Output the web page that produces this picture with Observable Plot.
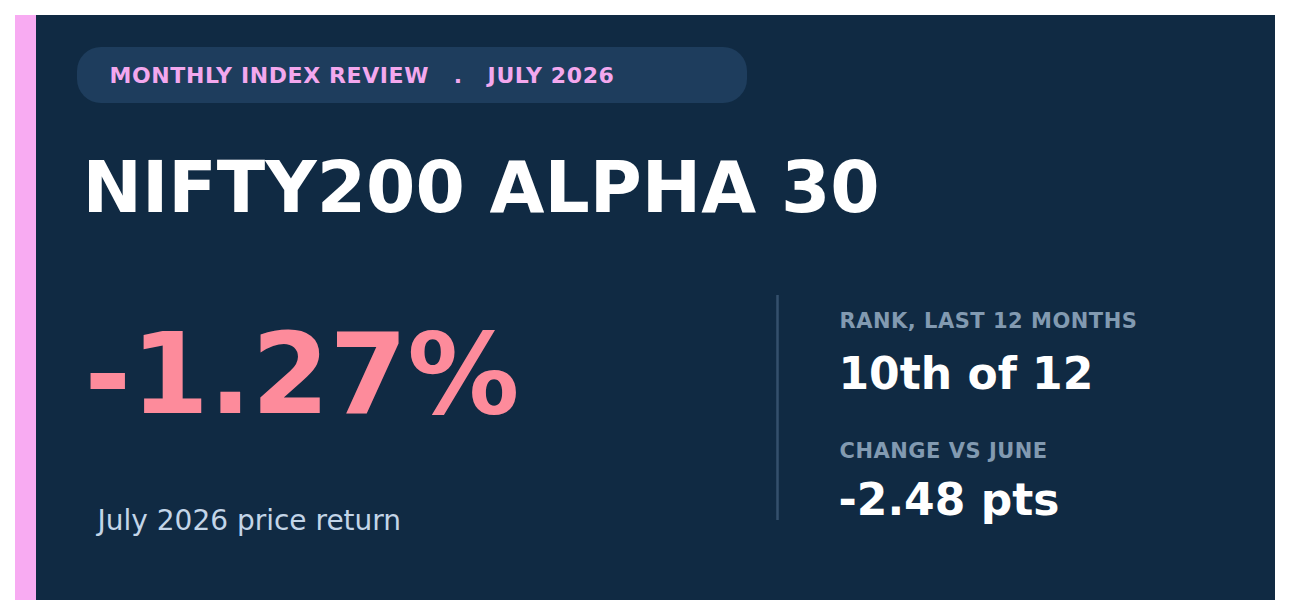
<!DOCTYPE html>
<html>
<head>
<meta charset="utf-8">
<script src="https://cdn.jsdelivr.net/npm/d3@7"></script>
<script src="https://cdn.jsdelivr.net/npm/@observablehq/plot@0.6"></script>
<style>
  html, body { margin: 0; padding: 0; background: #ffffff; }
  #chart svg { display: block; font-family: "DejaVu Sans", sans-serif; }
  text[aria-label="kicker"] { letter-spacing: 0.6px; }
  text[aria-label="stat-label"] { letter-spacing: 0.5px; }
</style>
</head>
<body>
<div id="chart"></div>
<script>
// ---- data ----
const kickerParts = ["MONTHLY INDEX REVIEW", "JULY 2026"];
const indexName = ["NIFTY200 ALPHA 30"];
const headlineValue = [-1.27];
const headlineCaption = ["July 2026 price return"];
const statLabels = ["RANK, LAST 12 MONTHS", "CHANGE VS JUNE"];
const statValues = ["10th of 12", "-2.48 pts"];

// ---- layout (pixel space via scales) ----
const W = 1290, H = 615;
const navy = "#102a43";
const pink = "#f8abf2";
const sep = "\u00a0\u00a0\u00a0.\u00a0\u00a0\u00a0";

const fmtPct = d => (d < 0 ? "-" : "+") + Math.abs(d).toFixed(2) + "%";

const chart = Plot.plot({
  width: W,
  height: H,
  margin: 0,
  x: {domain: [0, W], axis: null},
  y: {domain: [0, H], range: [0, H], axis: null},
  style: {background: "#ffffff", fontFamily: "DejaVu Sans, sans-serif"},
  marks: [
    // card background
    Plot.rect([0], {x1: 15, x2: 1275, y1: 15, y2: 600, fill: navy}),
    // accent stripe
    Plot.rect([0], {x1: 15, x2: 36, y1: 15, y2: 600, fill: pink}),
    // kicker pill
    Plot.rect([0], {x1: 77, x2: 747, y1: 47, y2: 103, rx: 24, fill: "#1e3d5d"}),
    Plot.text([kickerParts.join(sep)], {
      x: 109, y: 82, text: d => d, textAnchor: "start", lineAnchor: "bottom",
      fontSize: 22, fontWeight: "bold", fill: "#f3a8ee", ariaLabel: () => "kicker"
    }),
    // title
    Plot.text(indexName, {
      x: 82, y: 211, text: d => d, textAnchor: "start", lineAnchor: "bottom",
      fontSize: 71, fontWeight: "bold", fill: "#ffffff"
    }),
    // headline value
    Plot.text(headlineValue, {
      x: 84, y: 412, text: fmtPct, textAnchor: "start", lineAnchor: "bottom",
      fontSize: 112, fontWeight: "bold", fill: "#fd8b9b"
    }),
    Plot.text(headlineCaption, {
      x: 97, y: 529, text: d => d, textAnchor: "start", lineAnchor: "bottom",
      fontSize: 28, fill: "#c3d5e8"
    }),
    // divider
    Plot.ruleX([777], {y1: 295, y2: 520, stroke: "#34506c", strokeWidth: 2.5}),
    // right-hand stats
    Plot.text(statLabels, {
      x: 839, y: (d, i) => [327, 457][i], text: d => d, textAnchor: "start", lineAnchor: "bottom",
      fontSize: 21, fontWeight: "bold", fill: "#829ab1", ariaLabel: () => "stat-label"
    }),
    Plot.text(statValues, {
      x: 838, y: (d, i) => [388, 514][i], text: d => d, textAnchor: "start", lineAnchor: "bottom",
      fontSize: 44, fontWeight: "bold", fill: "#ffffff"
    })
  ]
});

document.getElementById("chart").appendChild(chart);
</script>
</body>
</html>
